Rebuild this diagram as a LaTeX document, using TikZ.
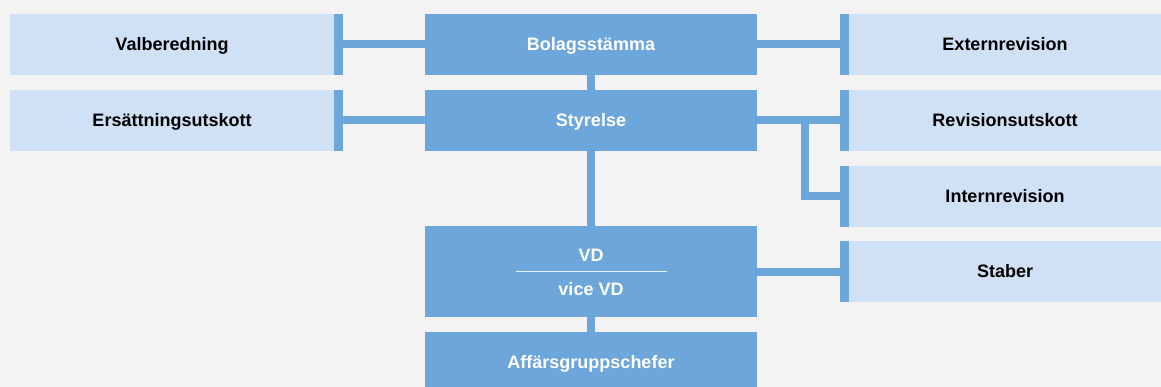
\documentclass[tikz,border=0pt]{standalone}
\usepackage{fontspec}
\setmainfont{Liberation Sans}
\usepackage{xcolor}
\usepackage{tikz}
\usetikzlibrary{positioning, calc}
\definecolor{boxdark}{HTML}{6CA6DA}
\definecolor{boxlight}{HTML}{D0E1F5}
\definecolor{bggray}{HTML}{F3F3F3}

\begin{document}
\begin{tikzpicture}[x=1pt, y=-1pt,
  label text/.style={font=\fontsize{18}{21}\selectfont\bfseries,
                     text height=12.9pt, text depth=0pt},
  central/.style={rectangle, fill=boxdark, minimum width=332pt,
                  minimum height=61pt, inner sep=0pt, text=white,
                  label text},
  side/.style={rectangle, fill=boxlight, minimum height=61pt,
               inner sep=0pt, text=black, label text},
  bar/.style={rectangle, fill=boxdark, minimum width=8.5pt,
              minimum height=61pt, inner sep=0pt},
  link/.style={draw=boxdark, line width=8pt},
]
% Background
\fill[bggray] (0,0) rectangle (1161,387);
\useasboundingbox (0,0) rectangle (1161,387);

% Central column
\node[central] (bolag) at (591,44.5) {Bolagsstämma};
\node[central] (styr)  at (591,120.5) {Styrelse};
\node[central, minimum height=91pt] (vd) at (591,271.5) {};
\node[central] (aff)   at (591,362.5) {Affärsgruppschefer};

% VD / vice VD
\node[text=white, label text, inner sep=0pt]
  (vdname) at ([yshift=16pt]vd.center) {VD};
\node[text=white, label text, inner sep=0pt]
  (vicename) at ([yshift=-18pt]vd.center) {vice VD};
\draw[white!85!boxdark, line width=1.2pt]
  ([xshift=-75.5pt]vd.center) -- ([xshift=75.5pt]vd.center);

% Left boxes
\node[side, minimum width=324pt] (valb) at (172,44.5) {Valberedning};
\node[side, minimum width=324pt] (ers)  at (172,120.5) {Ersättningsutskott};
\node[bar, right=0pt of valb] (valbbar) {};
\node[bar, right=0pt of ers]  (ersbar)  {};

% Right boxes
\node[side, minimum width=312pt] (ext)    at (1005,44.5) {Externrevision};
\node[side, minimum width=312pt] (rev)    at (1005,120.5) {Revisionsutskott};
\node[side, minimum width=312pt] (intrev) at (1005,196.5) {Internrevision};
\node[side, minimum width=312pt] (stab)   at (1005,271.5) {Staber};
\node[bar, left=0pt of ext]    (extbar)    {};
\node[bar, left=0pt of rev]    (revbar)    {};
\node[bar, left=0pt of intrev] (intrevbar) {};
\node[bar, left=0pt of stab]   (stabbar)   {};

% Connectors
\draw[link] (valbbar.east) -- (bolag.west);
\draw[link] (ersbar.east) -- (styr.west);
\draw[link] (bolag.south) -- (styr.north);
\draw[link] (styr.south) -- (vd.north);
\draw[link] (vd.south) -- (aff.north);
\draw[link] (bolag.east) -- (extbar.west);
\draw[link] (styr.east) -- (revbar.west);
\draw[link] (vd.east) -- (stabbar.west);
\coordinate (split) at (804.7,120.5);
\draw[link] ([yshift=4pt]split) |- (intrevbar.west);
\end{tikzpicture}
\end{document}
